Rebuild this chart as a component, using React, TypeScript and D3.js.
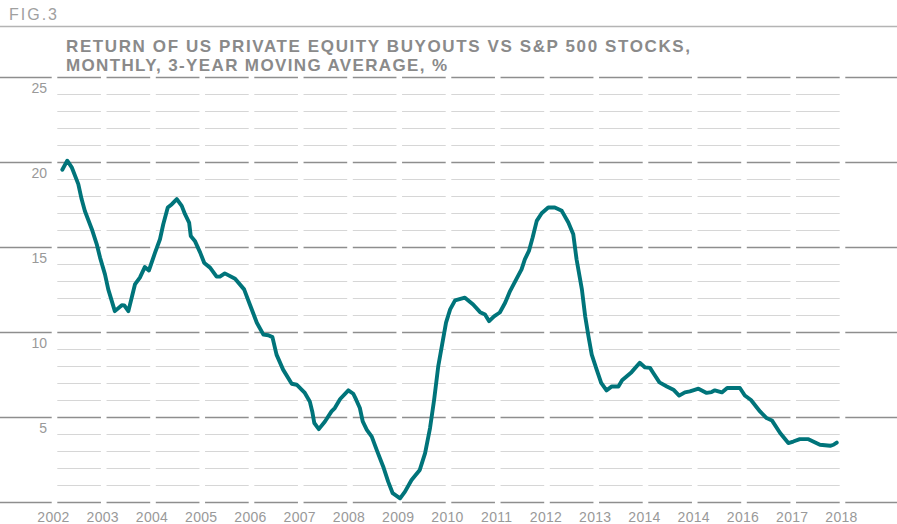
import React from 'react';
import * as d3 from 'd3';

// X-axis tick labels (as printed in the original, including its repeated 2014)
const yearLabels = ['2002', '2003', '2004', '2005', '2006', '2007', '2008', '2009', '2010', '2011', '2012', '2013', '2014', '2014', '2016', '2017', '2018'];

// Y-axis labelled values and grid step
const yTickValues = [5, 10, 15, 20, 25];
const yGridValues = d3.range(0, 26, 1);

// Series: months since Jan 2002, and 3-year moving average return (%)
const monthOffsets = [
  1.9, 3.1, 4.2, 5.8, 6.6, 7.4, 9.1, 10.3, 11.1, 12.3, 13.1, 14.7, 16.4, 17.0, 18.0, 19.6, 20.8, 22.0, 23.0, 24.5,
  25.7, 26.5, 27.6, 28.6, 29.8, 31.0, 31.8, 32.8, 33.2, 34.2, 35.5, 36.5, 37.9, 39.5, 40.3, 41.5, 44.0, 46.2, 47.6, 49.3,
  50.9, 52.1, 53.1, 54.1, 55.7, 57.8, 59.0, 61.0, 62.2, 62.8, 63.3, 64.4, 65.9, 67.5, 68.3, 69.6, 71.6, 72.8, 73.5, 74.4,
  75.1, 76.1, 77.3, 78.5, 80.1, 81.3, 82.4, 84.2, 85.4, 87.0, 89.0, 90.3, 91.5, 92.5, 93.5, 94.3, 95.4, 96.4, 97.6, 100.0,
  102.0, 103.7, 104.9, 105.9, 107.1, 108.5, 109.8, 111.0, 112.6, 113.8, 114.6, 115.6, 116.5, 117.5, 118.7, 120.3, 121.9, 123.6, 125.2, 126.4,
  127.2, 128.5, 129.3, 130.1, 130.9, 132.1, 133.2, 134.5, 135.8, 137.4, 138.3, 140.6, 142.6, 143.9, 145.1, 145.9, 147.4, 149.2, 150.8, 152.2,
  153.6, 154.8, 155.6, 156.9, 158.9, 160.1, 160.9, 162.6, 163.9, 167.0, 168.2, 169.7, 171.9, 173.5, 174.8, 176.8, 178.8, 180.0, 181.6, 183.7,
  186.5, 189.0, 189.8, 190.6,
];
const returns = [
  19.53, 20.06, 19.67, 18.68, 17.8, 17.1, 16.03, 15.14, 14.36, 13.37, 12.49, 11.21, 11.56, 11.55, 11.21, 12.78, 13.18, 13.8, 13.6, 14.65,
  15.44, 16.32, 17.3, 17.5, 17.8, 17.4, 16.91, 16.42, 15.63, 15.34, 14.65, 14.04, 13.77, 13.24, 13.24, 13.43, 13.12, 12.49, 11.6, 10.53,
  9.83, 9.79, 9.68, 8.65, 7.77, 6.94, 6.88, 6.4, 5.9, 5.31, 4.63, 4.27, 4.72, 5.31, 5.51, 6.04, 6.55, 6.35, 6.0, 5.51,
  4.72, 4.23, 3.83, 3.05, 2.06, 1.18, 0.5, 0.2, 0.59, 1.28, 1.87, 2.86, 4.33, 6.0, 7.96, 9.05, 10.53, 11.31, 11.84, 12.0,
  11.6, 11.15, 11.01, 10.62, 10.9, 11.13, 11.7, 12.39, 13.12, 13.67, 14.26, 14.75, 15.54, 16.52, 16.97, 17.31, 17.31, 17.11, 16.42, 15.73,
  14.26, 12.49, 10.91, 9.73, 8.65, 7.77, 6.99, 6.55, 6.78, 6.78, 7.14, 7.62, 8.17, 7.9, 7.87, 7.57, 7.02, 6.78, 6.59, 6.24,
  6.43, 6.49, 6.55, 6.65, 6.4, 6.45, 6.55, 6.43, 6.69, 6.69, 6.25, 5.98, 5.31, 4.92, 4.78, 4.04, 3.45, 3.54, 3.68, 3.68,
  3.35, 3.29, 3.35, 3.48,
];

const W = 897;
const H = 524;

export default function App() {
  const x = d3.scaleLinear().domain([0, (yearLabels.length - 1) * 12]).range([54.5, 842.5]);
  const y = d3.scaleLinear().domain([0, 25]).range([501.7, 76.7]);
  const tickMonths = yearLabels.map((_, i) => i * 12);
  const gap = 2.8;

  const linePath = d3
    .line<number>()
    .x((_, i) => x(monthOffsets[i]))
    .y((d) => y(d))
    .curve(d3.curveLinear)(returns) as string;

  const grid: React.ReactNode[] = [];
  yGridValues.forEach((v) => {
    const major = v % 5 === 0;
    const yy = Math.round(y(v)) + 0.5;
    const stroke = major ? '#8e8e8e' : '#d6d6d6';
    const sw = major ? 1.6 : 1.1;
    const segs: [number, number][] = [];
    if (major) segs.push([0, x(0) - gap]);
    for (let i = 0; i < tickMonths.length - 1; i++) {
      segs.push([x(tickMonths[i]) + gap, x(tickMonths[i + 1]) - gap]);
    }
    if (major) segs.push([x(tickMonths[tickMonths.length - 1]) + gap, W]);
    segs.forEach(([a, b], j) => {
      grid.push(<line key={`g${v}-${j}`} x1={a} x2={b} y1={yy} y2={yy} stroke={stroke} strokeWidth={sw} />);
    });
  });

  const font = '"Liberation Sans", Arial, sans-serif';

  return (
    <svg width={W} height={H} style={{ position: 'absolute', left: 0, top: 0, background: '#fff' }}>
      <text x={9} y={19.5} fontFamily={font} fontSize={16} fill="#a0a0a0" textLength={48} lengthAdjust="spacing">FIG.3</text>
      <line x1={0} x2={W} y1={26.5} y2={26.5} stroke="#b4b4b4" strokeWidth={1.6} />
      <text x={66} y={52.3} fontFamily={font} fontSize={17} fontWeight="bold" fill="#8a8a8a" textLength={624} lengthAdjust="spacing">
        RETURN OF US PRIVATE EQUITY BUYOUTS VS S&amp;P 500 STOCKS,
      </text>
      <text x={66} y={71.3} fontFamily={font} fontSize={17} fontWeight="bold" fill="#8a8a8a" textLength={381} lengthAdjust="spacing">
        MONTHLY, 3-YEAR MOVING AVERAGE, %
      </text>
      <g>{grid}</g>
      {yTickValues.map((v) => (
        <text key={`yl${v}`} x={47} y={y(v) + 16.5} textAnchor="end" fontFamily={font} fontSize={14} fill="#999">
          {v}
        </text>
      ))}
      {yearLabels.map((lab, i) => (
        <text key={`xl${i}`} x={x(tickMonths[i]) - 1} y={521.7} textAnchor="middle" fontFamily={font} fontSize={14} fill="#999" letterSpacing={0.3}>
          {lab}
        </text>
      ))}
      <path d={linePath} fill="none" stroke="#00747a" strokeWidth={3.9} strokeLinejoin="round" strokeLinecap="round" />
    </svg>
  );
}
